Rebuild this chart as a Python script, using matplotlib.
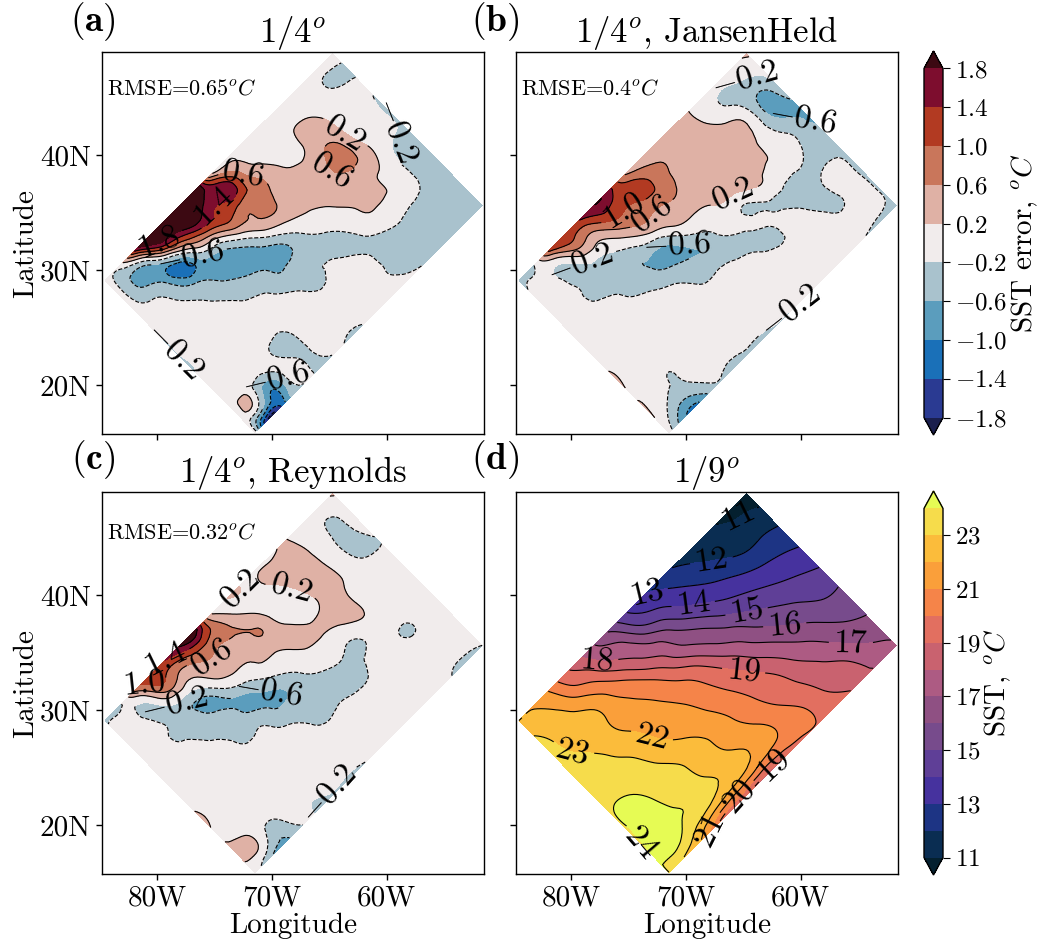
import numpy as np
import matplotlib
matplotlib.use('Agg')
import matplotlib.pyplot as plt
import matplotlib.tri as mtri

plt.rcParams['font.family'] = ['cmr10', 'DejaVu Sans']
plt.rcParams['mathtext.fontset'] = 'cm'
plt.rcParams['axes.unicode_minus'] = False
plt.rcParams['axes.formatter.use_mathtext'] = True
plt.rcParams['axes.linewidth'] = 1.0

W, H = 1039, 942

# corners of the rotated model domain (lon, lat)
corner_w = (-84.56, 29.08)
corner_n = (-64.74, 48.80)
corner_s = (-71.48, 15.90)

# fields, rows run W->N, row 0 on the NW edge, row 10 on the SE edge
err_a = [
    [0, 0, 1.5, 2.6, 3, 3, 2.4, 0.3, 0.1, 0, 0, 0, 0, 0, 0, 0],
    [0, -0.7, -0.65, 0.8, 1.5, 2.0, 1.5, 1.7, 0.7, 0.1, 0, 0.15, 0.15, 0, -0.25, -0.25],
    [0, -0.3, -0.7, -1.2, 0, 0.6, 1.1, 0.9, 0.8, 0.4, 0.1, 0.2, 0.35, 0.1, 0, -0.15],
    [0, 0, -0.3, -0.7, -0.8, -0.65, 0.05, 0.55, 0.7, 0.3, 0.3, 0.4, 0.65, 0.1, 0, -0.25],
    [-0.21, 0, 0, -0.3, -0.6, -0.8, -0.7, -0.15, 0.25, 0.3, 0.3, 0.5, 0.8, 0.25, 0.05, -0.3],
    [-0.21, 0, 0, 0, -0.3, -0.45, -0.7, -0.7, -0.25, 0, 0.22, 0.3, 0.35, 0.22, -0.2, -0.3],
    [-0.21, 0, 0, 0, 0, -0.15, -0.45, -0.35, -0.3, -0.25, 0, 0.25, 0.25, 0.05, -0.3, -0.4],
    [0, 0, 0, 0, -0.05, 0, -0.1, -0.3, -0.15, -0.3, -0.2, 0.05, 0.05, 0, -0.3, -0.4],
    [0, 0, 0, -0.15, -0.35, 0, 0, 0, 0.05, 0, -0.3, -0.3, -0.25, -0.35, -0.35, -0.4],
    [0, 0.05, -0.9, -0.05, -0.25, 0, 0, 0, 0, -0.1, -0.25, -0.3, -0.3, -0.4, -0.35, -0.4],
    [0, -1.9, -1.0, -0.25, -0.22, -0.22, -0.22, -0.22, -0.15, -0.1, -0.15, -0.2, -0.25, -0.25, -0.3, -0.3],
]
err_b = [
    [-0.25, -0.2, 1.1, 1.3, 1.4, 1.8, 1.5, 0.6, 0.4, 0.35, 0.3, 0.25, 0, 0, 0.05, 0.3],
    [-0.15, 0, -0.3, 0.5, 0.45, 1.05, 1.05, 1.2, 0.8, 0.55, 0.4, 0.3, 0, -0.3, -0.3, -0.1],
    [0, 0, -0.3, -0.3, -0.15, 0.3, 0.7, 0.7, 0.7, 0.4, 0.4, 0.4, 0.3, 0, -0.7, -0.25],
    [0, 0, -0.25, -0.3, -0.5, -0.35, 0, 0.35, 0.4, 0.35, 0.4, 0.4, 0.3, 0, -0.7, -0.6],
    [0, 0, 0, -0.2, -0.45, -0.65, -0.75, -0.2, 0.05, 0.2, 0.35, 0.35, 0.25, 0.05, -0.3, -0.7],
    [0, 0, 0, 0, -0.1, -0.3, -0.5, -0.6, -0.25, 0, -0.22, 0.1, 0, 0, -0.3, -0.5],
    [0.205, 0, 0, 0, 0, 0, -0.25, -0.3, -0.3, -0.25, -0.15, -0.25, -0.3, -0.3, -0.3, -0.25],
    [0.205, 0, 0, 0, 0, 0, 0, 0, -0.1, -0.22, -0.3, 0, -0.3, -0.3, 0, -0.3],
    [0.205, 0, -0.2, 0, 0, 0, 0, 0, 0, 0, 0, 0, 0, -0.3, 0, -0.3],
    [0.205, -0.25, -0.3, 0, 0, 0, 0, 0, 0, 0, 0, 0, 0, 0, 0, -0.25],
    [0, -0.9, -1.0, -0.3, -0.35, -0.3, -0.3, -0.22, -0.2, -0.1, -0.1, -0.1, -0.1, -0.2, -0.3, -0.35],
]
err_c = [
    [-0.25, -0.25, 0.7, 1.2, 1.4, 1.9, 1.9, 0.25, 0.18, 0.18, 0.18, 0.18, 0.2, 0, 0, 0.25],
    [-0.05, 0, -0.3, 0.7, 0.5, 0.7, 0.8, 0.7, 0.22, 0.1, 0.2, 0.3, 0.25, 0, -0.25, 0],
    [0, 0, -0.25, -0.35, -0.25, 0.3, 0.4, 0.35, 0.62, 0.1, -0.05, 0.3, 0.3, 0, -0.3, 0],
    [0, 0, -0.25, -0.35, -0.75, -0.3, 0.05, 0.22, 0.35, 0.3, 0.05, 0.2, 0.3, 0.05, -0.25, -0.22],
    [0, 0, 0, -0.25, -0.3, -0.7, -0.55, -0.15, 0.05, 0.25, 0.25, 0.3, 0.25, 0, 0, 0],
    [0, 0, 0, 0, -0.3, -0.35, -0.65, -0.6, -0.25, 0, 0, 0.05, 0.22, 0, 0, 0],
    [0.205, 0, 0, 0, 0, -0.05, -0.3, -0.35, -0.35, -0.3, -0.25, -0.25, 0, 0, 0, 0],
    [0.205, 0, 0, 0, 0, 0, 0, -0.25, -0.25, -0.3, -0.3, 0, 0, -0.25, 0, 0],
    [0.2, 0, 0, 0, 0, 0, 0, 0, -0.05, 0, 0, 0, 0, 0, 0, 0],
    [0.25, 0.25, -0.3, 0, -0.1, 0, 0, 0, 0, 0, 0, 0, 0, 0, 0, 0],
    [0, -0.5, -0.7, -0.25, -0.22, -0.25, -0.25, -0.22, -0.15, 0, 0, 0, 0, -0.2, -0.3, -0.2],
]
sst_d = [
    [22.0, 21.9, 20.9, 19.4, 18.2, 17.0, 15.8, 14.2, 13.2, 12.7, 12.05, 11.8, 11.5, 11.0, 10.7, 10.5],
    [23.0, 22.4, 21.7, 20.45, 19.45, 17.95, 17.2, 15.5, 14.4, 13.6, 12.9, 12.25, 11.8, 11.4, 11.3, 11.1],
    [23.3, 22.7, 22.3, 21.8, 20.7, 19.55, 18.15, 17.2, 16.0, 14.65, 13.8, 13.15, 12.6, 12.1, 12.05, 11.9],
    [23.35, 22.95, 22.5, 21.95, 21.3, 20.65, 19.65, 18.3, 17.0, 16.1, 14.9, 14.1, 13.6, 13.15, 12.9, 12.6],
    [23.5, 23.35, 22.85, 22.2, 21.65, 21.2, 20.5, 19.7, 18.45, 17.1, 16.2, 15.2, 14.55, 14.05, 13.7, 13.4],
    [23.7, 23.5, 23.2, 22.75, 21.95, 21.5, 21.05, 20.35, 19.5, 18.35, 17.2, 16.2, 15.4, 14.85, 14.4, 14.1],
    [23.9, 24.0, 23.55, 23.1, 22.5, 21.9, 21.4, 20.75, 20.0, 19.25, 18.2, 17.2, 16.3, 15.6, 15.0, 14.9],
    [23.9, 24.4, 23.9, 23.4, 23.0, 22.5, 21.75, 21.1, 20.4, 19.7, 19.05, 18.05, 17.2, 16.4, 15.7, 15.5],
    [23.9, 24.6, 24.15, 23.7, 23.2, 22.6, 22.05, 21.45, 20.85, 20.05, 19.4, 18.65, 17.95, 17.15, 16.35, 16.0],
    [24.0, 24.6, 23.9, 23.5, 23.0, 22.6, 22.2, 21.6, 21.1, 20.5, 19.9, 19.05, 18.5, 17.95, 17.1, 16.6],
    [24.0, 23.0, 22.2, 20.5, 19.5, 19.2, 18.9, 18.9, 19.5, 19.9, 19.9, 19.3, 19.0, 18.2, 17.9, 17.2],
]

err_levels = [-1.8, -1.4, -1.0, -0.6, -0.2, 0.2, 0.6, 1.0, 1.4, 1.8]
err_colors = ['#1a1f4d', '#2a3a92', '#1a70b8', '#5b9dbd', '#a9c2cd', '#f1ecec',
              '#dfb1a5', '#c9765b', '#b23a22', '#7d0d2e', '#3c0912']
sst_levels = list(range(11, 25))
sst_colors = ['#04202f', '#0a2d52', '#1d3484', '#46329e', '#5f3f97', '#774b8c', '#8f5083',
              '#ad5b83', '#c9626f', '#e26f60', '#f58449', '#fa9f3a', '#fbbc3b', '#f6dc4b', '#e6fb54']

lon_ticks = [-80, -70, -60]
lon_labels = ['80W', '70W', '60W']
lat_ticks = [20, 30, 40]
lat_labels = ['20N', '30N', '40N']
err_ticks = err_levels
sst_ticks = [11, 13, 15, 17, 19, 21, 23]

# contour label spots per level (lon, lat)
labels_a = {0.2: [(-63.5, 42.1)], -0.2: [(-58.0, 41.8), (-78.7, 22.8)],
            0.6: [(-72.5, 38.3), (-65.1, 38.2)], 1.4: [(-75.7, 35.9)], 1.8: [(-80.2, 33.3)],
            -0.6: [(-77.0, 31.7), (-69.6, 20.7)]}
labels_b = {-0.2: [(-65.7, 48.2), (-79.2, 30.5), (-60.5, 27.6)], -0.6: [(-59.4, 44.0), (-70.9, 31.5)],
            1.0: [(-75.9, 35.4)], 0.6: [(-73.5, 35.2)], 0.2: [(-65.8, 36.5)]}
labels_c = {0.2: [(-72.8, 40.5), (-68.3, 40.7)], 1.0: [(-81.2, 32.7)], 1.4: [(-79.6, 34.1)],
            0.6: [(-75.1, 34.4)], -0.2: [(-78.5, 30.5), (-65.2, 23.0)], -0.6: [(-70.2, 31.5)]}
labels_d = {11: [(-65.6, 47.0)], 12: [(-67.8, 43.1)], 13: [(-75.9, 38.2)], 14: [(-69.4, 39.4)],
            15: [(-64.7, 38.5)], 16: [(-61.4, 37.6)], 17: [(-55.6, 35.9)], 18: [(-77.7, 34.7)],
            19: [(-64.9, 33.9), (-62.4, 25.2)], 20: [(-65.3, 22.4)], 21: [(-69.4, 18.3)],
            22: [(-72.9, 27.9)], 23: [(-80.3, 24.7)], 24: [(-73.9, 18.5)]}


def axes_px(fig, left, top, right, bottom):
    return fig.add_axes([left / W, 1 - bottom / H, (right - left) / W, (bottom - top) / H])


def domain_grid(nrow, ncol):
    i, j = np.meshgrid(np.arange(ncol) / (ncol - 1), np.arange(nrow) / (nrow - 1))
    lon = corner_w[0] + i * (corner_n[0] - corner_w[0]) + j * (corner_s[0] - corner_w[0])
    lat = corner_w[1] + i * (corner_n[1] - corner_w[1]) + j * (corner_s[1] - corner_w[1])
    return lon, lat


def fmt_err(v):
    return '$%.1f$' % v


def fmt_sst(v):
    return '$%d$' % round(v)


def panel(ax, field, levels, colors, spots, fmt):
    lon, lat = domain_grid(len(field), len(field[0]))
    z = np.array(field, dtype=float).ravel()
    tri = mtri.Triangulation(lon.ravel(), lat.ravel())
    # smooth contours through matplotlib's own refiner
    fine, zfine = mtri.UniformTriRefiner(tri).refine_field(z, subdiv=3)
    cf = ax.tricontourf(fine, zfine, levels=levels, colors=colors, extend='both')
    # one contour set per level, clabel picks the wrong level otherwise
    for lev in levels:
        cs = ax.tricontour(fine, zfine, levels=[lev], colors='k', linewidths=0.8)
        if lev in spots:
            ax.clabel(cs, levels=[lev], manual=spots[lev], fmt=fmt, fontsize=24, inline=True)
    ax.set_xlim(-84.82, -51.5)
    ax.set_ylim(15.74, 48.96)
    ax.set_xticks(lon_ticks)
    ax.set_yticks(lat_ticks)
    ax.tick_params(labelsize=21, length=4, width=1, pad=4)
    return cf


fig = plt.figure(figsize=(W / 100, H / 100), dpi=100)
ax_a = axes_px(fig, 102, 52, 484, 434)
ax_b = axes_px(fig, 516, 52, 898, 434)
ax_c = axes_px(fig, 102, 492, 484, 874)
ax_d = axes_px(fig, 516, 492, 898, 874)

cf_err = panel(ax_a, err_a, err_levels, err_colors, labels_a, fmt_err)
panel(ax_b, err_b, err_levels, err_colors, labels_b, fmt_err)
panel(ax_c, err_c, err_levels, err_colors, labels_c, fmt_err)
cf_sst = panel(ax_d, sst_d, sst_levels, sst_colors, labels_d, fmt_sst)

for ax in (ax_a, ax_b):
    ax.set_xticklabels([])
for ax in (ax_c, ax_d):
    ax.set_xticklabels(lon_labels)
    ax.set_xlabel('Longitude', fontsize=21)
    ax.xaxis.set_label_coords(0.5, -0.1)
for ax in (ax_b, ax_d):
    ax.set_yticklabels([])
for ax in (ax_a, ax_c):
    ax.set_yticklabels(lat_labels)
    ax.set_ylabel('Latitude', fontsize=21)
    ax.yaxis.set_label_coords(-0.165, 0.5)

ax_a.set_title('$1/4^o$', fontsize=25, pad=6)
ax_b.set_title('$1/4^o$, JansenHeld', fontsize=25, pad=6)
ax_c.set_title('$1/4^o$, Reynolds', fontsize=25, pad=6)
ax_d.set_title('$1/9^o$', fontsize=25, pad=6)

ax_a.text(0.012, 0.905, 'RMSE=$0.65^oC$', transform=ax_a.transAxes, fontsize=16, va='center')
ax_b.text(0.012, 0.905, 'RMSE=$0.4^oC$', transform=ax_b.transAxes, fontsize=16, va='center')
ax_c.text(0.012, 0.895, 'RMSE=$0.32^oC$', transform=ax_c.transAxes, fontsize=16, va='center')

for tag, x, y in [('a', 93, 22), ('b', 495, 22), ('c', 93, 460), ('d', 495, 460)]:
    fig.text(x / W, 1 - y / H, r'$\mathbf{(%s)}$' % tag, fontsize=27, ha='center', va='center')

cax_err = axes_px(fig, 924, 51, 943, 435)
cb_err = fig.colorbar(cf_err, cax=cax_err, ticks=err_ticks)
cb_err.set_ticklabels(['$%.1f$' % t for t in err_ticks])
cb_err.ax.tick_params(labelsize=18, length=5)
cb_err.set_label('SST error, $^oC$', fontsize=21)
cb_err.ax.yaxis.set_label_coords(4.5, 0.5)

cax_sst = axes_px(fig, 924, 491, 943, 875)
cb_sst = fig.colorbar(cf_sst, cax=cax_sst, ticks=sst_ticks)
cb_sst.set_ticklabels(['$%d$' % t for t in sst_ticks])
cb_sst.ax.tick_params(labelsize=18, length=5)
cb_sst.set_label('SST, $^oC$', fontsize=21)
cb_sst.ax.yaxis.set_label_coords(3.1, 0.5)

plt.savefig('out.png', dpi=100)
